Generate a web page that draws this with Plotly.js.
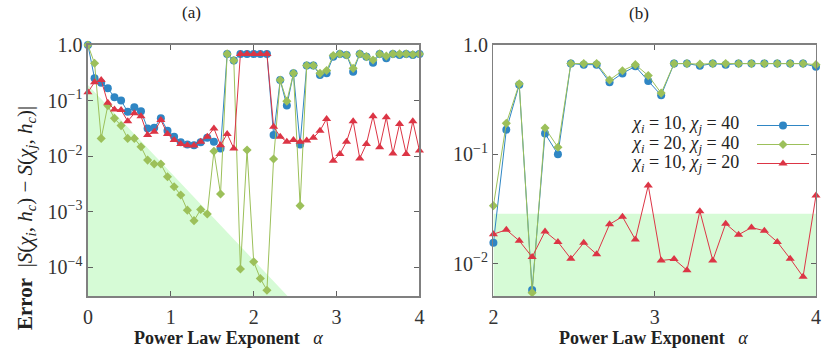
<!DOCTYPE html>
<html>
<head>
<meta charset="utf-8">
<script src="https://cdn.plot.ly/plotly-3.0.1.min.js"></script>
<style>
  body { margin: 0; background: #fff; }
  #myDiv { width: 822px; height: 354px; }
</style>
</head>
<body>
<div id="myDiv"></div>
<script>
// panel (a): alpha = 0, 0.08, ... 4.0
var alphaA = [];
for (var i = 0; i <= 50; i++) alphaA.push(+(i * 0.08).toFixed(2));

var blueA = [1.0, 0.251, 0.209, 0.166, 0.115, 0.100, 0.0631, 0.0759, 0.0646, 0.0316,
  0.0324, 0.0479, 0.0288, 0.0224, 0.0178, 0.0162, 0.0158, 0.0178, 0.0214, 0.0182,
  0.0138, 0.692, 0.525, 0.692, 0.692, 0.692, 0.692, 0.692, 0.0240, 0.234,
  0.0813, 0.309, 0.0162, 0.427, 0.427, 0.288, 0.309, 0.617, 0.692, 0.661,
  0.331, 0.692, 0.617, 0.479, 0.692, 0.575, 0.692, 0.661, 0.692, 0.661, 0.692];

var greenA = [1.0, 0.468, 0.0209, 0.0813, 0.0479, 0.0355, 0.0209, 0.0209, 0.0148, 0.00851,
  0.00724, 0.00724, 0.00427, 0.00282, 0.00200, 0.00107, 0.000692, 0.00110, 0.000912, 0.0123,
  0.00209, 0.692, 0.525, 0.0000933, 0.0129, 0.000126, 0.0000631, 0.0000389, 0.00891, 0.234,
  0.0977, 0.309, 0.00129, 0.427, 0.427, 0.309, 0.347, 0.646, 0.692, 0.661,
  0.380, 0.692, 0.617, 0.537, 0.692, 0.631, 0.692, 0.692, 0.692, 0.676, 0.692];

var redA = [0.141, 0.214, 0.234, 0.0912, 0.0692, 0.0676, 0.0427, 0.0589, 0.0525, 0.0240,
  0.0275, 0.0447, 0.0251, 0.0195, 0.0166, 0.0158, 0.0155, 0.0182, 0.0224, 0.0316,
  0.0158, 0.0251, 0.0138, 0.692, 0.692, 0.692, 0.692, 0.692, 0.0339, 0.0224,
  0.0182, 0.0195, 0.0182, 0.0191, 0.0214, 0.0288, 0.0468, 0.00832, 0.0110, 0.0182,
  0.0427, 0.00912, 0.0166, 0.0525, 0.0145, 0.0501, 0.0112, 0.0380, 0.0110, 0.0427, 0.0126];

// panel (b): alpha = 2, 2.08, ... 4.0
var alphaB = [];
for (var j = 0; j <= 25; j++) alphaB.push(+(2 + j * 0.08).toFixed(2));

var blueB = [0.0155, 0.168, 0.432, 0.00575, 0.155, 0.100, 0.676, 0.661, 0.661, 0.457,
  0.550, 0.638, 0.468, 0.347, 0.676, 0.676, 0.646, 0.676, 0.661, 0.676,
  0.676, 0.676, 0.676, 0.676, 0.676, 0.631];
var greenB = [0.0339, 0.192, 0.441, 0.00543, 0.174, 0.116, 0.676, 0.676, 0.676, 0.479,
  0.582, 0.661, 0.525, 0.363, 0.676, 0.676, 0.668, 0.676, 0.676, 0.676,
  0.676, 0.676, 0.676, 0.676, 0.676, 0.661];
var redB = [0.0186, 0.0204, 0.0162, 0.0115, 0.0197, 0.0158, 0.0111, 0.0155, 0.0122, 0.0229,
  0.0269, 0.0166, 0.0519, 0.0107, 0.0110, 0.00871, 0.0302, 0.0107, 0.0232, 0.0184,
  0.0214, 0.0200, 0.0158, 0.0111, 0.00759, 0.0421];

// shaded regions
var shadeAX = [0, 4, 4, 0];
var shadeAY = [0.19, 9.5e-8, 1e-9, 1e-9];
var shadeBX = [2, 4, 4, 2];
var shadeBY = [0.0286, 0.0286, 1e-4, 1e-4];

var legendNames = ['<i>χ<sub>i</sub></i> = 10, <i>χ<sub>j</sub></i> = 40',
                   '<i>χ<sub>i</sub></i> = 20, <i>χ<sub>j</sub></i> = 40',
                   '<i>χ<sub>i</sub></i> = 10, <i>χ<sub>j</sub></i> = 20'];

var BLUE = '#2f86c4', GREEN = '#9cc05a', RED = '#dc3545', SHADE = '#d6fbd6';
var FONT = '"Liberation Serif", serif';

function series(x, y, color, sym, size, xa, ya, show, lw) {
  return {
    x: x, y: y, xaxis: xa, yaxis: ya, type: 'scatter', mode: 'lines+markers',
    line: {color: color, width: lw},
    marker: {color: color, symbol: sym, size: size},
    cliponaxis: false, showlegend: show, name: ' '
  };
}

var data = [
  {x: shadeAX, y: shadeAY, xaxis: 'x', yaxis: 'y', fill: 'toself', fillcolor: SHADE,
   mode: 'lines', line: {width: 0}, showlegend: false, hoverinfo: 'skip'},
  {x: shadeBX, y: shadeBY, xaxis: 'x2', yaxis: 'y2', fill: 'toself', fillcolor: SHADE,
   mode: 'lines', line: {width: 0}, showlegend: false, hoverinfo: 'skip'},
  series(alphaA, blueA, BLUE, 'circle', 8, 'x', 'y', false, 1),
  series(alphaA, greenA, GREEN, 'diamond', 7, 'x', 'y', false, 1),
  series(alphaA, redA, RED, 'triangle-up', 8, 'x', 'y', false, 1),
  series(alphaB, blueB, BLUE, 'circle', 8, 'x2', 'y2', true, 1),
  series(alphaB, greenB, GREEN, 'diamond', 7, 'x2', 'y2', true, 1),
  series(alphaB, redB, RED, 'triangle-up', 8, 'x2', 'y2', true, 1)
];

var axisBase = {
  showline: true, linecolor: '#808080', linewidth: 1.5, mirror: 'ticks',
  ticks: 'inside', ticklen: 5, tickcolor: '#606060', tickwidth: 1,
  showgrid: false, zeroline: false,
  tickfont: {family: FONT, size: 20, color: '#333'}
};
function ax(extra) { return Object.assign({}, axisBase, extra); }

function note(text, px, py, size, extra) {
  return Object.assign({text: text, x: px / 822, y: 1 - py / 354, xref: 'paper', yref: 'paper',
    xanchor: 'center', yanchor: 'middle', showarrow: false, font: {family: FONT, size: size}}, extra || {});
}

var layout = {
  width: 822, height: 354,
  margin: {l: 0, r: 0, t: 0, b: 0},
  paper_bgcolor: '#fff', plot_bgcolor: '#fff',
  font: {family: FONT, size: 15, color: '#222'},
  xaxis: ax({domain: [0.1071, 0.5109], range: [0, 4], tickvals: [0, 1, 2, 3, 4], anchor: 'y',
    ticklabelstandoff: 2}),
  yaxis: ax({domain: [0.1638, 0.8729], type: 'log', range: [-4.515, 0], anchor: 'x',
    tickvals: [1, 0.1, 0.01, 0.001, 0.0001],
    ticktext: ['1.0', '10<sup>−1</sup>', '10<sup>−2</sup>', '10<sup>−3</sup>', '10<sup>−4</sup>']}),
  xaxis2: ax({domain: [0.601, 0.9939], range: [2, 4], tickvals: [2, 3, 4], anchor: 'y2',
    ticklabelstandoff: 2}),
  yaxis2: ax({domain: [0.1638, 0.8729], type: 'log', range: [-2.296, 0], anchor: 'x2',
    tickvals: [1, 0.1, 0.01],
    ticktext: ['1.0', '10<sup>−1</sup>', '10<sup>−2</sup>']}),
  legend: {x: 753 / 822, y: 1 - 111 / 354, xanchor: 'left', yanchor: 'top',
    bgcolor: 'rgba(0,0,0,0)', font: {family: FONT, size: 12}, itemwidth: 52,
    tracegroupgap: 0},
  annotations: [
    note('(a)', 192, 12, 17),
    note('(b)', 640, 13, 17),
    note('<b>Power Law Exponent</b>   <i>α</i>', 229, 338, 18),
    note('<b>Power Law Exponent</b>   <i>α</i>', 654, 338, 18),
    note('<b>Error</b>  |<i>S</i>(<i>χ<sub>i</sub></i>, <i>h<sub>c</sub></i>) − <i>S</i>(<i>χ<sub>j</sub></i>, <i>h<sub>c</sub></i>)|',
      26, 218, 21, {textangle: -90}),
    note(legendNames[0], 742, 124, 18, {xanchor: 'right'}),
    note(legendNames[1], 742, 144, 18, {xanchor: 'right'}),
    note(legendNames[2], 742, 164, 18, {xanchor: 'right'})
  ]
};

Plotly.newPlot('myDiv', data, layout, {staticPlot: true});
</script>
</body>
</html>
